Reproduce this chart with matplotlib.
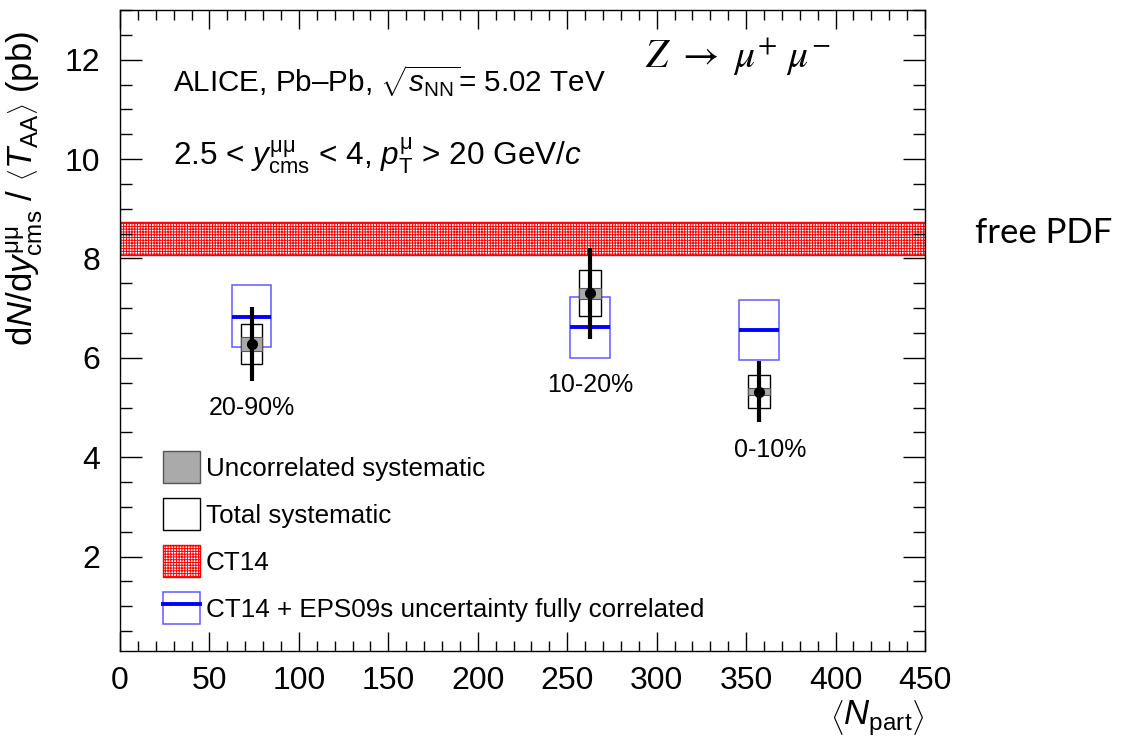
import matplotlib
matplotlib.use("Agg")
import matplotlib.pyplot as plt
from matplotlib.patches import Rectangle, Patch
from matplotlib.lines import Line2D
from matplotlib.legend_handler import HandlerTuple
from matplotlib.ticker import MultipleLocator

plt.rcParams["font.family"] = ["Liberation Sans", "DejaVu Sans"]
plt.rcParams["mathtext.fontset"] = "custom"
plt.rcParams["mathtext.rm"] = "Liberation Sans"
plt.rcParams["mathtext.it"] = "Liberation Sans:italic"
plt.rcParams["mathtext.bf"] = "Liberation Sans:bold"
plt.rcParams["hatch.linewidth"] = 0.7

# Z -> mu+ mu- yields per centrality class
centrality = ["20-90%", "10-20%", "0-10%"]
npart = [73.6, 262.7, 357.3]
yield_vals = [6.28, 7.30, 5.32]
stat_err = [0.74, 0.92, 0.62]
syst_total = [0.40, 0.465, 0.335]
syst_uncorr = [0.135, 0.11, 0.07]

# CT14 + EPS09s prediction (central value and band edges)
model_central = [6.83, 6.62, 6.56]
model_low = [6.21, 6.00, 5.95]
model_high = [7.47, 7.23, 7.16]

# CT14 free-PDF band
ct14_low = 8.06
ct14_high = 8.74

fig = plt.figure(figsize=(11.32, 7.42), dpi=100)
ax = fig.add_axes([0.1060, 0.1226, 0.7111, 0.8639])

red_hatch = "++++++"
ax.axhspan(ct14_low, ct14_high, facecolor="white", edgecolor="red",
           hatch=red_hatch, lw=1.0, zorder=1)

syst_hw = 6.0
model_hw = 11.0
for x, lo, hi, c in zip(npart, model_low, model_high, model_central):
    ax.add_patch(Rectangle((x - model_hw, lo), 2 * model_hw, hi - lo,
                           fill=False, edgecolor="#5c5cff", lw=1.1, zorder=2))
    ax.hlines(c, x - model_hw, x + model_hw, color="#0000ff", lw=2.8, zorder=2)

for x, y, st, su in zip(npart, yield_vals, syst_total, syst_uncorr):
    ax.add_patch(Rectangle((x - syst_hw, y - st), 2 * syst_hw, 2 * st,
                           facecolor="white", edgecolor="black", lw=1.0, zorder=3))
    ax.add_patch(Rectangle((x - syst_hw, y - su), 2 * syst_hw, 2 * su,
                           facecolor="#aaaaaa", edgecolor="#555555", lw=0.8, zorder=4))

ax.errorbar(npart, yield_vals, yerr=stat_err, fmt="o", color="black",
            ms=7, elinewidth=3, capsize=0, zorder=5)

label_dx = [0, 0, 6]
for x, y, e, lo, name, dx in zip(npart, yield_vals, stat_err, model_low,
                                 centrality, label_dx):
    ax.text(x + dx, min(y - e, lo) - 0.55, name, ha="center", va="center",
            fontsize=18)

ax.set_xlim(0, 450)
ax.set_ylim(0.1, 13)
ax.xaxis.set_major_locator(MultipleLocator(50))
ax.xaxis.set_minor_locator(MultipleLocator(10))
ax.yaxis.set_major_locator(MultipleLocator(2))
ax.yaxis.set_minor_locator(MultipleLocator(0.5))
ax.tick_params(which="both", direction="in", top=True, right=True,
               labelsize=23, width=1.0)
ax.tick_params(axis="x", which="major", length=14, pad=11)
ax.tick_params(axis="x", which="minor", length=7)
ax.tick_params(axis="y", which="major", length=16, pad=14)
ax.tick_params(axis="y", which="minor", length=8.5)
for sp in ax.spines.values():
    sp.set_linewidth(1.0)

ax.set_ylabel(r"d$N$/d$y^{\mathrm{\mu\mu}}_{\mathrm{cms}}$ / $\left\langle T_{\mathrm{AA}}\right\rangle$ (pb)",
              fontsize=25)
ax.yaxis.set_label_coords(-0.093, 0.722)
ax.set_xlabel(r"$\left\langle N_{\mathrm{part}}\right\rangle$", fontsize=25, loc="right")
ax.xaxis.set_label_coords(1.0, -0.074)

ax.text(0.066, 0.872, r"ALICE, Pb–Pb, $\sqrt{s_{\mathrm{NN}}}$= 5.02 TeV",
        transform=ax.transAxes, fontsize=21.3, va="baseline")
ax.text(0.066, 0.758,
        r"2.5 < $y^{\mathrm{\mu\mu}}_{\mathrm{cms}}$ < 4, $p^{\mathrm{\mu}}_{\mathrm{T}}$ > 20 GeV/$c$",
        transform=ax.transAxes, fontsize=22.7, va="baseline")
ax.text(0.652, 0.9095, r"$Z\ \rightarrow\ \mu^{+}\ \mu^{-}$",
        transform=ax.transAxes, fontsize=28.5, va="baseline", math_fontfamily="stix")

fig.text(975 / 1132, 1 - 233 / 742, "free PDF", fontsize=25,
         family=["Lato", "DejaVu Sans"], va="center", ha="left")

handles = [
    Patch(facecolor="#aaaaaa", edgecolor="#555555", lw=1.0),
    Patch(facecolor="white", edgecolor="black", lw=1.0),
    Patch(facecolor="white", edgecolor="red", hatch=red_hatch, lw=1.0),
    (Patch(facecolor="white", edgecolor="#5c5cff", lw=1.1),
     Line2D([], [], color="#0000ff", lw=2.8)),
]
labels = ["Uncorrelated systematic", "Total systematic", "CT14",
          "CT14 + EPS09s uncertainty fully correlated"]
fs = 18.7
fs_px = fs * 100 / 72
box_h = 32.0
hh = (box_h / fs_px - 0.245) / 0.65
ax.legend(handles, labels, loc="upper left", bbox_to_anchor=(0.053, 0.312),
          frameon=False, fontsize=fs, borderpad=0, borderaxespad=0,
          handlelength=37 / fs_px, handleheight=hh,
          labelspacing=15 / fs_px, handletextpad=6 / fs_px,
          handler_map={tuple: HandlerTuple(ndivide=1, pad=0)})

fig.savefig("out.png", dpi=100)
